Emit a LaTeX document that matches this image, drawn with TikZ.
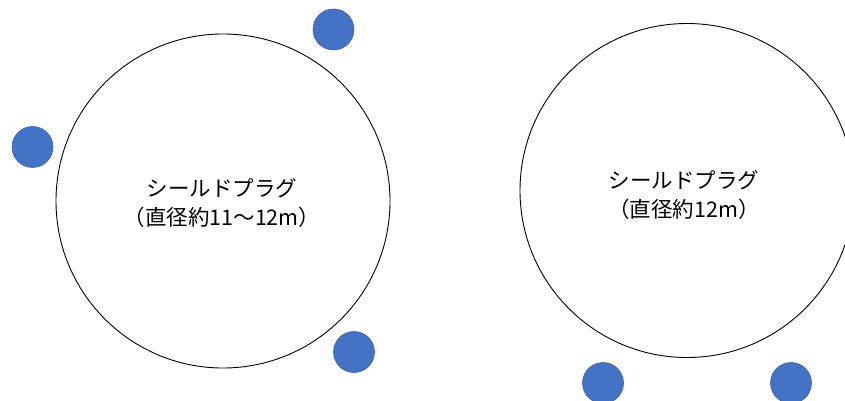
\documentclass[tikz,border=0pt]{standalone}
\usepackage{fontspec}
\newfontfamily\jp{Noto Sans CJK JP}
\definecolor{dotblue}{HTML}{4472C4}
\definecolor{dotedge}{HTML}{3A62A8}
\begin{document}
\begin{tikzpicture}[x=1pt,y=-1pt,
  plug/.style={circle,draw=black,line width=0.9pt,minimum size=334pt,inner sep=0pt},
  bolt/.style={circle,fill=dotblue,draw=dotedge,line width=0.6pt,minimum size=41pt,inner sep=0pt},
  lbl/.style={font=\jp\fontsize{21.5}{29.5}\selectfont,align=center,inner sep=0pt}]
\useasboundingbox[fill=white] (0,0) rectangle (845,401);
\node[plug] (p1) at (223,201) {};
\node[plug] (p2) at (687,190.5) {};
\node[lbl] (t1) at (222,203) {シールドプラグ\\（直径約11～12m）};
\node[lbl] (t2) at (684,195) {シールドプラグ\\（直径約12m）};
\node[bolt] (b1) at (333.5,29.5) {};
\node[bolt] (b2) at (32.5,147) {};
\node[bolt] (b3) at (354,352) {};
\node[bolt] (b4) at (603,383) {};
\node[bolt] (b5) at (791,383) {};
\end{tikzpicture}
\end{document}
